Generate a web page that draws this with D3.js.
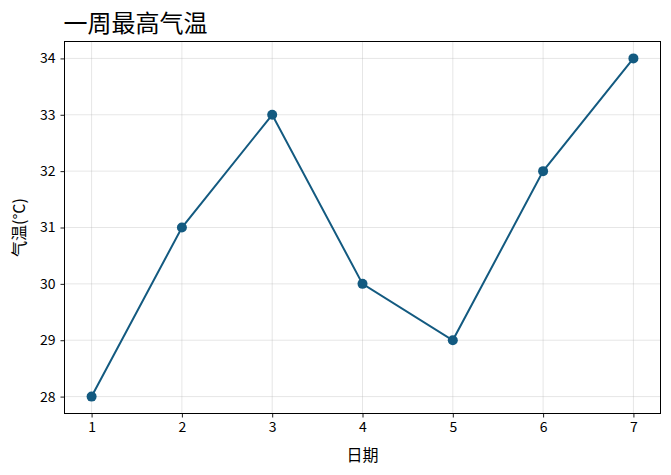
<!DOCTYPE html>
<html><head><meta charset="utf-8">
<script src="https://cdn.jsdelivr.net/npm/d3@7"></script>
<style>
body{margin:0;background:#fff;}
svg{font-family:"Noto Sans CJK SC","Noto Sans",sans-serif;}
</style></head>
<body><svg id="c" width="671" height="475"></svg>
<script>
const days = [1,2,3,4,5,6,7];
const temps = [28,31,33,30,29,32,34];
const xTicks = [1,2,3,4,5,6,7];
const yTicks = [28,29,30,31,32,33,34];
const title = "一周最高气温";
const xLabel = "日期";
const yLabel = "气温(°C)";

const svg = d3.select("#c");
const L=64.5, R=660.5, T=41.5, B=413.5;
const x = d3.scaleLinear().domain([0.7,7.3]).range([L,R]);
const y = d3.scaleLinear().domain([27.7,34.3]).range([B,T]);
const color = "#135a80";

// grid
svg.append("g").selectAll("line").data(xTicks).join("line")
  .attr("x1",d=>x(d)).attr("x2",d=>x(d)).attr("y1",T).attr("y2",B)
  .attr("stroke","#b0b0b0").attr("stroke-opacity",0.4).attr("stroke-width",0.8);
svg.append("g").selectAll("line").data(yTicks).join("line")
  .attr("y1",d=>y(d)).attr("y2",d=>y(d)).attr("x1",L).attr("x2",R)
  .attr("stroke","#b0b0b0").attr("stroke-opacity",0.4).attr("stroke-width",0.8);

// axes
const xa = svg.append("g").attr("transform",`translate(0,${B})`)
  .call(d3.axisBottom(x).tickValues(xTicks).tickFormat(d3.format("d")).tickSize(4).tickPadding(5));
const ya = svg.append("g").attr("transform",`translate(${L},0)`)
  .call(d3.axisLeft(y).tickValues(yTicks).tickFormat(d3.format("d")).tickSize(4).tickPadding(5));
[xa,ya].forEach(a=>{
  a.select(".domain").remove();
  a.selectAll("text").attr("font-size",14).attr("fill","#000")
   .attr("font-family",'"Noto Sans CJK SC",sans-serif');
  a.selectAll(".tick line").attr("stroke","#000").attr("stroke-width",0.9);
});

// frame
svg.append("rect").attr("x",L).attr("y",T).attr("width",R-L).attr("height",B-T)
  .attr("fill","none").attr("stroke","#000").attr("stroke-width",1);

// line
const data = days.map((d,i)=>({d,t:temps[i]}));
svg.append("path").datum(data)
  .attr("d",d3.line().x(p=>x(p.d)).y(p=>y(p.t)))
  .attr("fill","none").attr("stroke",color).attr("stroke-width",2);
svg.append("g").selectAll("circle").data(data).join("circle")
  .attr("cx",p=>x(p.d)).attr("cy",p=>y(p.t)).attr("r",5).attr("fill",color);

// title & labels
svg.append("text").attr("x",L-1).attr("y",32).attr("font-size",24).attr("fill","#000").text(title);
svg.append("text").attr("x",(L+R)/2).attr("y",461).attr("text-anchor","middle")
  .attr("font-size",16).attr("fill","#000").text(xLabel);
svg.append("text").attr("transform",`translate(25,${(T+B)/2}) rotate(-90)`)
  .attr("text-anchor","middle").attr("font-size",16).attr("fill","#000").text(yLabel);
</script></body></html>
